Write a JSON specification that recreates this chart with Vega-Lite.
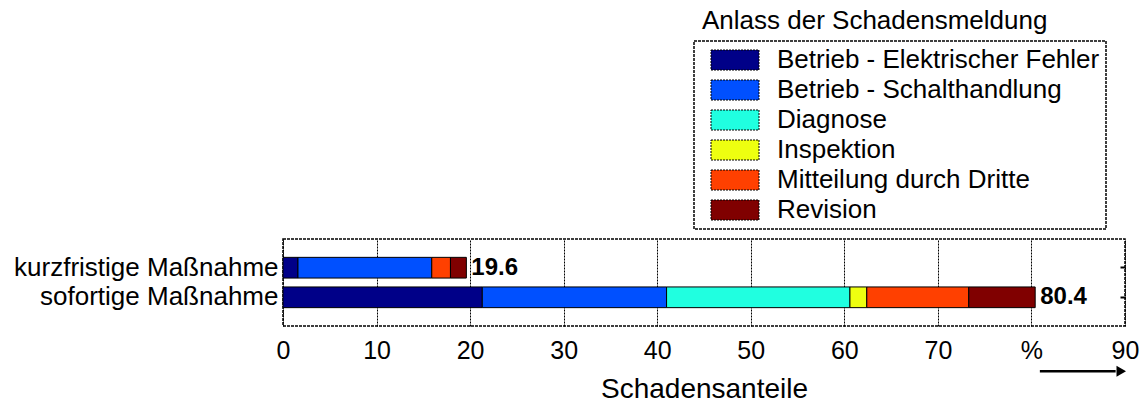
{
  "$schema": "https://vega.github.io/schema/vega-lite/v6.json",
  "width": 842,
  "height": 87,
  "autosize": {"type": "none"},
  "padding": {"left": 283, "top": 239, "right": 22, "bottom": 76},
  "title": {"text": "Anlass der Schadensmeldung", "anchor": "start", "frame": "group", "dx": 419, "offset": 6, "fontSize": 26, "fontWeight": "normal", "color": "black"},
  "data": {"values": [
    {"massnahme": "kurzfristige Maßnahme", "anlass": "Betrieb - Elektrischer Fehler", "value": 1.6},
    {"massnahme": "kurzfristige Maßnahme", "anlass": "Betrieb - Schalthandlung", "value": 14.3},
    {"massnahme": "kurzfristige Maßnahme", "anlass": "Mitteilung durch Dritte", "value": 2.0},
    {"massnahme": "kurzfristige Maßnahme", "anlass": "Revision", "value": 1.7},
    {"massnahme": "sofortige Maßnahme", "anlass": "Betrieb - Elektrischer Fehler", "value": 21.3},
    {"massnahme": "sofortige Maßnahme", "anlass": "Betrieb - Schalthandlung", "value": 19.7},
    {"massnahme": "sofortige Maßnahme", "anlass": "Diagnose", "value": 19.6},
    {"massnahme": "sofortige Maßnahme", "anlass": "Inspektion", "value": 1.8},
    {"massnahme": "sofortige Maßnahme", "anlass": "Mitteilung durch Dritte", "value": 10.9},
    {"massnahme": "sofortige Maßnahme", "anlass": "Revision", "value": 7.1}
  ]},
  "layer": [
    {
      "layer": [
        {
          "mark": {"type": "bar", "stroke": "black", "strokeWidth": 1},
          "encoding": {
            "y": {"field": "massnahme", "type": "nominal", "sort": ["kurzfristige Maßnahme", "sofortige Maßnahme"],
                  "scale": {"paddingInner": 0.3, "paddingOuter": 0.62},
                  "axis": {"title": null, "orient": "left", "labelFontSize": 26, "labelPadding": 5, "labelLimit": 0, "ticks": false, "domain": false, "labelColor": "black"}},
            "x": {"field": "value", "type": "quantitative", "stack": "zero", "title": "Schadensanteile",
                  "scale": {"domain": [0, 90], "nice": false, "zero": true},
                  "axis": {"orient": "bottom", "values": [0, 10, 20, 30, 40, 50, 60, 70, 80, 90],
                           "labelExpr": "datum.value == 80 ? '%' : datum.label",
                           "title": "Schadensanteile", "titleFontSize": 28, "titleFontWeight": "normal", "titleColor": "black",
                           "titleBaseline": "alphabetic", "titleY": 71,
                           "grid": true, "gridColor": "black", "gridDash": [2, 1], "gridOpacity": 1, "gridWidth": 1,
                           "domain": false, "ticks": false, "labelFontSize": 25, "labelColor": "black",
                           "labelBaseline": "alphabetic", "labelPadding": 32, "labelFlush": false, "labelOverlap": false}},
            "color": {"field": "anlass", "type": "nominal",
                      "scale": {"domain": ["Betrieb - Elektrischer Fehler", "Betrieb - Schalthandlung", "Diagnose", "Inspektion", "Mitteilung durch Dritte", "Revision"],
                                "range": ["#000088", "#0050FF", "#20FFE0", "#EEFF10", "#FF4000", "#800000"]},
                      "legend": {"title": null, "orient": "none", "legendX": 411, "legendY": -198,
                                 "symbolType": "M-2.4,-1H2.4V1H-2.4Z", "symbolSize": 400,
                                 "symbolOffset": 22, "labelOffset": 29,
                                 "labelFontSize": 26, "labelColor": "black", "labelLimit": 0,
                                 "labelExpr": "datum.label + '\u00a0\u00a0\u00a0'",
                                 "padding": 6, "rowPadding": 4}},
            "order": {"field": "anlass", "type": "nominal"}
          }
        },
        {
          "mark": {"type": "text", "align": "left", "baseline": "middle", "dx": 5, "fontSize": 24, "fontWeight": "bold", "color": "black"},
          "encoding": {
            "y": {"field": "massnahme", "type": "nominal", "sort": ["kurzfristige Maßnahme", "sofortige Maßnahme"],
                  "axis": {"orient": "right", "labels": false, "title": null, "domain": false, "ticks": true, "tickSize": -5, "tickColor": "black", "tickWidth": 2}},
            "x": {"aggregate": "sum", "field": "value", "type": "quantitative", "title": "Schadensanteile"},
            "text": {"aggregate": "sum", "field": "value", "type": "quantitative", "format": ".1f"}
          }
        }
      ],
      "resolve": {"axis": {"y": "independent"}}
    },
    {
      "data": {"values": [{"x1": 80.9, "x2": 89.0, "y": -0.52}]},
      "mark": {"type": "rule", "color": "black", "strokeWidth": 2.5},
      "encoding": {
        "x": {"field": "x1", "type": "quantitative", "title": "Schadensanteile"},
        "x2": {"field": "x2"},
        "y": {"field": "y", "type": "quantitative", "scale": {"domain": [0, 1]}, "axis": null}
      }
    },
    {
      "data": {"values": [{"x": 89.6, "y": -0.52}]},
      "mark": {"type": "point", "shape": "triangle-right", "filled": true, "color": "black", "size": 121, "opacity": 1},
      "encoding": {
        "x": {"field": "x", "type": "quantitative", "title": "Schadensanteile"},
        "y": {"field": "y", "type": "quantitative", "scale": {"domain": [0, 1]}, "axis": null}
      }
    }
  ],
  "resolve": {"scale": {"y": "independent"}},
  "config": {
    "font": "Liberation Sans",
    "view": {"stroke": "black", "strokeWidth": 1.5, "strokeDash": [3, 1]},
    "axis": {"labelColor": "black", "titleColor": "black"},
    "legend": {"strokeColor": "black", "strokeDash": [3, 1], "strokeWidth": 1.5,
               "symbolStrokeColor": "black", "symbolStrokeWidth": 1, "symbolDash": [2, 1], "symbolOpacity": 1}
  }
}
